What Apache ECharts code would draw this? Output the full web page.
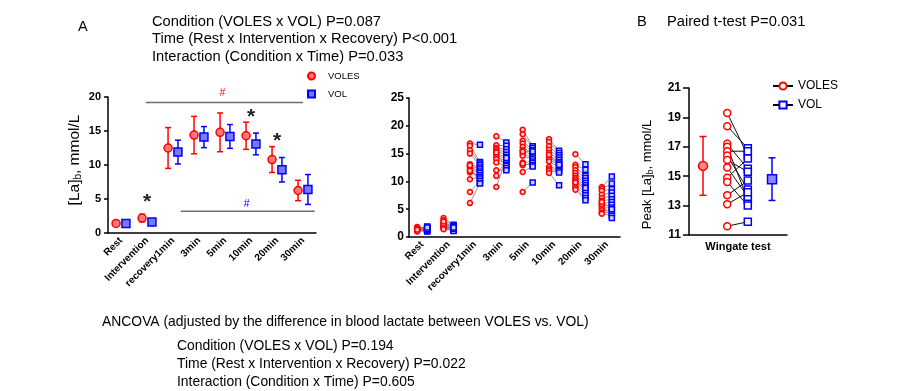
<!DOCTYPE html>
<html><head><meta charset="utf-8">
<script src="https://cdn.jsdelivr.net/npm/echarts@6/dist/echarts.min.js"></script>
<style>html,body{margin:0;padding:0;background:#fff}#c{width:924px;height:391px}</style>
</head><body><div id="c"></div>
<script>
// ---------- DATA ----------
const categories = ['Rest','Intervention','recovery1min','3min','5min','10min','20min','30min'];
// Panel A: group means and SD
const volesMean = [1.4, 2.2, 12.5, 14.4, 14.8, 14.3, 10.8, 6.25];
const volesSD   = [0.2, 0.55, 3.0, 2.75, 2.85, 2.0, 1.9, 1.5];
const volMean   = [1.4, 1.6, 11.9, 14.1, 14.2, 13.1, 9.3, 6.4];
const volSD     = [0.2, 0.3, 1.75, 1.55, 1.75, 1.6, 1.8, 2.2];
// Panel A annotations
const starPos   = [1, 5, 6];
const starVal   = [5.3, 17.8, 14.2];
const hashPos   = [3.9, 4.83];
const hashVal   = [20.5, 4.2];
const hashColor = ['#ff0000', '#0000ff'];
const sigFrom   = [0.95, 2.3];
const sigTo     = [7.0, 7.45];
const sigVal    = [19.2, 3.2];
// Middle panel: individual values (paired by position)
const volesRest  = [1.1,1.2,1.3,1.4,1.5,1.6,1.8,1.3,1.2,1.4,1.7,1.5,1.0,1.3];
const volRest    = [1.0,1.2,1.5,1.8,1.3,1.4,1.6,1.1,1.2,1.9,1.5,1.3,1.4,1.7];
const volesInt   = [3.4,3.0,2.6,2.3,2.1,2.0,1.9,1.8,1.7,1.6,1.5,2.4,2.8,1.4];
const volInt     = [2.2,2.0,1.9,1.8,1.7,1.6,1.5,1.4,1.3,1.2,1.1,1.6,1.5,1.7];
const volesRec1  = [16.8,16.4,15.6,15.0,13.1,12.8,12.6,12.2,11.6,10.4,11.9,8.1,6.1,12.9];
const volRec1    = [16.6,13.5,13.2,12.9,12.5,12.2,11.8,11.5,11.1,10.8,10.5,10.1,9.7,9.6];
const voles3     = [18.1,16.5,16.0,15.7,15.4,15.0,14.8,14.4,14.0,13.4,15.2,12.0,11.0,9.0];
const vol3       = [17.0,16.4,15.8,15.3,14.8,14.4,14.0,13.6,13.2,12.8,12.4,12.0,13.9,14.2];
const voles5     = [19.3,18.5,17.3,16.8,16.2,15.6,15.0,14.6,13.4,12.9,13.2,11.7,8.1,15.4];
const vol5       = [16.3,16.0,15.6,15.2,14.9,14.6,14.3,14.0,13.6,13.3,12.9,12.7,9.8,15.4];
const voles10    = [17.6,17.1,16.3,15.7,15.1,14.7,14.3,14.0,13.6,12.6,12.2,11.9,11.5,14.8];
const vol10      = [15.5,15.1,14.7,14.3,13.9,13.5,13.2,12.9,12.5,12.2,11.9,11.6,9.3,13.0];
const voles20    = [14.9,13.0,12.6,12.0,11.5,11.0,10.6,10.3,10.0,9.6,9.2,8.8,8.5,9.8];
const vol20      = [13.1,12.1,11.0,10.6,10.1,9.7,9.3,8.9,8.5,8.0,7.5,7.0,6.6,8.8];
const voles30    = [9.0,8.7,8.3,7.6,7.0,6.5,6.0,5.6,5.2,4.8,4.4,4.2,5.9,6.3];
const vol30      = [10.9,9.6,8.6,8.0,7.4,6.8,6.3,5.8,5.3,4.8,4.3,3.8,3.4,5.0];
// Panel B: Wingate peak lactate (paired)
const wingateCategory = ['Wingate test'];
const wingateVoles = [19.3,18.4,17.2,17.0,16.7,16.4,16.1,15.6,14.9,14.6,13.7,13.1,11.6];
const wingateVol   = [16.4,16.9,15.5,13.4,16.7,14.1,15.3,13.6,16.2,13.0,14.7,13.9,11.9];
const wingateMean  = [15.7, 14.8];
const wingateSD    = [2.0, 1.45];

// ---------- BUILD ----------
const RED = '#ff0000', BLUE = '#0000ff';
const OFF = 0.19;
const volesAll = [volesRest, volesInt, volesRec1, voles3, voles5, voles10, voles20, voles30];
const volAll   = [volRest, volInt, volRec1, vol3, vol5, vol10, vol20, vol30];
const FONT = 'Liberation Sans, Arial, Helvetica, sans-serif';

function errRender(cap) {
  return function (params, api) {
    const x = api.value(0), m = api.value(1), s = api.value(2);
    const hi = api.coord([x, m + s]), lo = api.coord([x, m - s]);
    const style = { stroke: api.visual('color'), lineWidth: 1.5 };
    return { type: 'group', children: [
      { type: 'line', shape: { x1: hi[0], y1: hi[1], x2: lo[0], y2: lo[1] }, style },
      { type: 'line', shape: { x1: hi[0] - cap, y1: hi[1], x2: hi[0] + cap, y2: hi[1] }, style },
      { type: 'line', shape: { x1: lo[0] - cap, y1: lo[1], x2: lo[0] + cap, y2: lo[1] }, style }
    ]};
  };
}
function pairRender(color, width) {
  return function (params, api) {
    const a = api.coord([api.value(0), api.value(1)]);
    const b = api.coord([api.value(2), api.value(3)]);
    return { type: 'line', shape: { x1: a[0], y1: a[1], x2: b[0], y2: b[1] },
      style: { stroke: color, lineWidth: width } };
  };
}

const pairsMid = [];
volesAll.forEach((arr, i) => arr.forEach((v, k) => pairsMid.push([i - OFF, v, i + OFF, volAll[i][k]])));
const ptsMidRed = [], ptsMidBlue = [];
volesAll.forEach((arr, i) => arr.forEach(v => ptsMidRed.push([i - OFF, v])));
volAll.forEach((arr, i) => arr.forEach(v => ptsMidBlue.push([i + OFF, v])));

const XR_IND = -0.11, XB_IND = 0.10, XR_M = -0.357, XB_M = 0.347;

function catAxis(grid, data, fs, rot) {
  return { type: 'category', gridIndex: grid, data: data, boundaryGap: true,
    axisLine: { onZero: false, lineStyle: { color: '#000', width: 1.5 } },
    axisTick: { alignWithLabel: true, length: 4, lineStyle: { color: '#000', width: 1.5 } },
    axisLabel: { color: '#000', fontWeight: 'bold', fontSize: fs, rotate: rot, margin: 6, interval: 0, fontFamily: FONT },
    splitLine: { show: false } };
}
function hiddenX(grid, min, max) {
  return { type: 'value', gridIndex: grid, min: min, max: max, show: false, splitLine: { show: false } };
}
function valY(grid, min, max, iv, fs, tl, mg) {
  return { type: 'value', gridIndex: grid, min: min, max: max, interval: iv,
    axisLine: { show: true, onZero: false, lineStyle: { color: '#000', width: 1.5 } },
    axisTick: { show: true, length: tl, lineStyle: { color: '#000', width: 1.5 } },
    axisLabel: { color: '#000', fontWeight: 'bold', fontSize: fs, margin: mg, fontFamily: FONT },
    splitLine: { show: false } };
}

const yA = valY(0, 0, 20, 5, 11, 4, 7);
yA.name = '{n|[La]}{s|b}{n|, mmol/L}';
yA.nameLocation = 'middle';
yA.nameGap = 25;
yA.nameTextStyle = { padding: [0, 0, 0, 10], rich: { n: { fontSize: 15.5, color: '#000', fontFamily: FONT }, s: { fontSize: 10, color: '#000', padding: [7, 0, 0, 0], fontFamily: FONT } } };
const yM = valY(1, 0, 25, 5, 12, 3, 5);
const yB = valY(2, 11, 21, 2, 12, 6, 8);
yB.name = '{n|Peak [La]}{s|b}{n|, mmol/L}';
yB.nameLocation = 'middle';
yB.nameGap = 34;
yB.nameTextStyle = { padding: [0, 26, 0, 0], rich: { n: { fontSize: 13, color: '#000', fontFamily: FONT }, s: { fontSize: 8.5, color: '#000', padding: [6, 0, 0, 0], fontFamily: FONT } } };

const titleTop = { fontSize: 14.7, fontWeight: 'normal', color: '#000', fontFamily: FONT, lineHeight: 17.5 };
const titleBot = { fontSize: 13.9, fontWeight: 'normal', color: '#000', fontFamily: FONT, lineHeight: 18 };

const option = {
  animation: false,
  backgroundColor: '#fff',
  textStyle: { fontFamily: FONT },
  title: [
    { text: 'A', left: 78, top: 18, padding: 0, textStyle: Object.assign({}, titleTop, { fontSize: 14.5 }) },
    { text: 'Condition (VOLES x VOL) P=0.087\nTime (Rest x Intervention x Recovery) P<0.001\nInteraction (Condition x Time) P=0.033', left: 152, top: 13, padding: 0, textStyle: titleTop },
    { text: 'B', left: 637, top: 13, padding: 0, textStyle: titleTop },
    { text: 'Paired t-test P=0.031', left: 667, top: 13, padding: 0, textStyle: titleTop },
    { text: 'ANCOVA (adjusted by the difference in blood lactate between VOLES vs. VOL)', left: 102, top: 313, padding: 0, textStyle: titleBot },
    { text: 'Condition (VOLES x VOL) P=0.194\nTime (Rest x Intervention x Recovery) P=0.022\nInteraction (Condition x Time) P=0.605', left: 177, top: 337, padding: 0, textStyle: titleBot }
  ],
  legend: [
    { data: ['VOLES', 'VOL'], orient: 'vertical', left: 307, top: 71, padding: 0, itemWidth: 7, itemHeight: 7, itemGap: 8,
      textStyle: { fontSize: 9.5, color: '#000', fontFamily: FONT, padding: [0, 0, 0, 8] }, selectedMode: false },
    { data: ['VOLES_B', 'VOL_B'], orient: 'vertical', left: 772, top: 80, padding: 0, itemWidth: 20, itemHeight: 9, itemGap: 7,
      formatter: n => n.replace('_B', ''), textStyle: { fontSize: 12, color: '#000', fontFamily: FONT }, selectedMode: false }
  ],
  grid: [
    { left: 108, top: 97, width: 208, height: 136 },
    { left: 409, top: 98, width: 211, height: 139 },
    { left: 689, top: 88, width: 98, height: 147 }
  ],
  xAxis: [
    catAxis(0, categories, 10, 45), hiddenX(0, -0.5, 7.5),
    catAxis(1, categories, 10, 45), hiddenX(1, -0.5, 7.5),
    catAxis(2, wingateCategory, 11, 0), hiddenX(2, -0.5, 0.5)
  ],
  yAxis: [yA, yM, yB],
  series: [
    // ---- Panel A ----
    { type: 'custom', name: 'errVoles', xAxisIndex: 1, yAxisIndex: 0, renderItem: errRender(3), itemStyle: { color: RED },
      encode: { x: 0, y: 1 }, data: volesMean.map((m, i) => [i - OFF, m, volesSD[i]]), z: 2 },
    { type: 'custom', name: 'errVol', xAxisIndex: 1, yAxisIndex: 0, renderItem: errRender(3), itemStyle: { color: BLUE },
      encode: { x: 0, y: 1 }, data: volMean.map((m, i) => [i + OFF, m, volSD[i]]), z: 2 },
    { type: 'scatter', name: 'VOLES', xAxisIndex: 1, yAxisIndex: 0, symbol: 'circle', symbolSize: 8,
      itemStyle: { color: '#ff7a7a', borderColor: RED, borderWidth: 1.5, opacity: 1 },
      data: volesMean.map((m, i) => [i - OFF, m]), z: 3 },
    { type: 'scatter', name: 'VOL', xAxisIndex: 1, yAxisIndex: 0, symbol: 'rect', symbolSize: 8,
      itemStyle: { color: '#7a7aff', borderColor: BLUE, borderWidth: 1.5, opacity: 1 },
      data: volMean.map((m, i) => [i + OFF, m]), z: 3 },
    { type: 'custom', name: 'sig', xAxisIndex: 1, yAxisIndex: 0, encode: { x: [0, 1], y: 2 },
      data: sigFrom.map((f, i) => [f, sigTo[i], sigVal[i]]),
      renderItem: (p, api) => {
        const a = api.coord([api.value(0), api.value(2)]), b = api.coord([api.value(1), api.value(2)]);
        return { type: 'line', shape: { x1: a[0], y1: a[1], x2: b[0], y2: b[1] }, style: { stroke: '#6e6e6e', lineWidth: 1.5 } };
      } },
    { type: 'custom', name: 'stars', xAxisIndex: 1, yAxisIndex: 0, encode: { x: 0, y: 1 },
      data: starPos.map((x, i) => [x, starVal[i]]),
      renderItem: (p, api) => {
        const c = api.coord([api.value(0), api.value(1)]);
        return { type: 'text', x: c[0], y: c[1] + 5, style: { text: '*', fill: '#222', fontSize: 21, fontWeight: 'bold', fontFamily: FONT, align: 'center', verticalAlign: 'middle' } };
      } },
    { type: 'custom', name: 'hashes', xAxisIndex: 1, yAxisIndex: 0, encode: { x: 0, y: 1 },
      data: hashPos.map((x, i) => [x, hashVal[i]]),
      renderItem: (p, api) => {
        const c = api.coord([api.value(0), api.value(1)]);
        return { type: 'text', x: c[0], y: c[1], style: { text: '#', fill: hashColor[p.dataIndex], fontSize: 10.5, fontFamily: FONT, align: 'center', verticalAlign: 'middle' } };
      } },
    // ---- Middle panel ----
    { type: 'custom', name: 'pairsMid', xAxisIndex: 3, yAxisIndex: 1, encode: { x: [0, 2], y: [1, 3] },
      renderItem: pairRender('#8a8a8a', 0.9), data: pairsMid, z: 1 },
    { type: 'scatter', name: 'VOLES_M', xAxisIndex: 3, yAxisIndex: 1, symbol: 'circle', symbolSize: 5,
      itemStyle: { color: '#ffd0d0', borderColor: RED, borderWidth: 1.5, opacity: 1 }, data: ptsMidRed, z: 3 },
    { type: 'scatter', name: 'VOL_M', xAxisIndex: 3, yAxisIndex: 1, symbol: 'rect', symbolSize: 5,
      itemStyle: { color: '#d0d0ff', borderColor: BLUE, borderWidth: 1.5, opacity: 1 }, data: ptsMidBlue, z: 3 },
    // ---- Panel B ----
    { type: 'custom', name: 'pairsB', xAxisIndex: 5, yAxisIndex: 2, encode: { x: [0, 2], y: [1, 3] },
      renderItem: pairRender('#111', 1), data: wingateVoles.map((v, k) => [XR_IND, v, XB_IND, wingateVol[k]]), z: 1 },
    { type: 'custom', name: 'errB', xAxisIndex: 5, yAxisIndex: 2, renderItem: errRender(3.5), encode: { x: 0, y: 1 },
      data: [{ value: [XR_M, wingateMean[0], wingateSD[0]], itemStyle: { color: RED } },
             { value: [XB_M, wingateMean[1], wingateSD[1]], itemStyle: { color: BLUE } }], z: 2 },
    { type: 'scatter', name: 'meanVolesB', xAxisIndex: 5, yAxisIndex: 2, symbol: 'circle', symbolSize: 9,
      itemStyle: { color: '#ff8a8a', borderColor: RED, borderWidth: 1.5, opacity: 1 }, data: [[XR_M, wingateMean[0]]], z: 3 },
    { type: 'scatter', name: 'meanVolB', xAxisIndex: 5, yAxisIndex: 2, symbol: 'rect', symbolSize: 9,
      itemStyle: { color: '#8a8aff', borderColor: BLUE, borderWidth: 1.5, opacity: 1 }, data: [[XB_M, wingateMean[1]]], z: 3 },
    { type: 'scatter', name: 'indVolesB', xAxisIndex: 5, yAxisIndex: 2, symbol: 'circle', symbolSize: 7,
      itemStyle: { color: '#fff', borderColor: RED, borderWidth: 1.5, opacity: 1 }, data: wingateVoles.map(v => [XR_IND, v]), z: 3 },
    { type: 'scatter', name: 'indVolB', xAxisIndex: 5, yAxisIndex: 2, symbol: 'rect', symbolSize: 7,
      itemStyle: { color: '#fff', borderColor: BLUE, borderWidth: 1.5, opacity: 1 }, data: wingateVol.map(v => [XB_IND, v]), z: 3 },
    // legend-only series for panel B
    { type: 'line', name: 'VOLES_B', xAxisIndex: 5, yAxisIndex: 2, data: [], symbol: 'emptyCircle', symbolSize: 7,
      itemStyle: { color: RED, borderColor: RED, borderWidth: 1.5 }, lineStyle: { color: '#000', width: 1 } },
    { type: 'line', name: 'VOL_B', xAxisIndex: 5, yAxisIndex: 2, data: [], symbol: 'emptyRect', symbolSize: 7,
      itemStyle: { color: BLUE, borderColor: BLUE, borderWidth: 1.5 }, lineStyle: { color: '#000', width: 1 } }
  ]
};
const chart = echarts.init(document.getElementById('c'), null, { renderer: 'canvas' });
chart.setOption(option);
</script>
</body></html>
